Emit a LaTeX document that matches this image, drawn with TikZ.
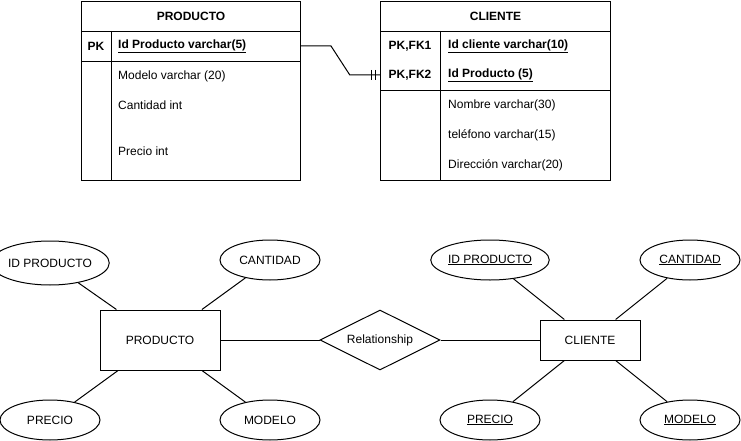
\documentclass[tikz,border=0pt]{standalone}
\usepackage{fontspec}
\setmainfont{Liberation Sans}
\usetikzlibrary{shapes.geometric}
\begin{document}
\begin{tikzpicture}[x=1pt,y=-1pt,
  every node/.style={font=\fontsize{12}{14}\selectfont},
  ln/.style={draw=black,line width=1pt},
  cellbox/.style={ln,rectangle,inner sep=0pt,anchor=north west},
  txt/.style={inner sep=0pt,anchor=west},
  keytxt/.style={inner sep=0pt,font=\fontsize{12}{14}\selectfont\bfseries},
  attr/.style={ln,ellipse,minimum width=100pt,minimum height=40pt,inner sep=0pt},
  ent/.style={ln,rectangle,minimum width=120pt,minimum height=60pt,inner sep=0pt},
  rel/.style={ln,diamond,minimum width=120pt,minimum height=60pt,inner sep=0pt,aspect=2}]
\useasboundingbox (0,0) rectangle (741,441);
% ---- Table PRODUCTO
\node[cellbox,minimum width=219pt,minimum height=30pt] (phead) at (81,1) {};
\node[keytxt] at (phead.center) {PRODUCTO};
\node[cellbox,minimum width=219pt,minimum height=30pt] (ppk) at (81,31) {};
\node[cellbox,minimum width=219pt,minimum height=119pt] (pbody) at (81,61) {};
\draw[ln] (111,31) -- (111,180);
\node[keytxt] (ppklab) at (96,46) {PK};
\node[keytxt,anchor=west] (pid) at (118,46) {\underline{Id Producto varchar(5)}};
\node[txt] (pmod) at (118,76) {Modelo varchar (20)};
\node[txt] (pcan) at (118,105) {Cantidad int};
\node[txt] (ppre) at (118,151) {Precio int};
% ---- Table CLIENTE
\node[cellbox,minimum width=230pt,minimum height=30pt] (chead) at (380,1) {};
\node[keytxt] at (chead.center) {CLIENTE};
\node[cellbox,minimum width=230pt,minimum height=59pt] (cpk) at (380,31) {};
\node[cellbox,minimum width=230pt,minimum height=90pt] (cbody) at (380,90) {};
\draw[ln] (440,31) -- (440,180);
\node[keytxt] (cpk1) at (410,46) {PK,FK1};
\node[keytxt,minimum width=60pt] (cpk2) at (410,75) {PK,FK2};
\node[keytxt,anchor=west] (cid) at (448,46) {\underline{Id cliente varchar(10)}};
\node[keytxt,anchor=west] (cidp) at (448,75) {\underline{Id Producto (5)}};
\node[txt] (cnom) at (448,105) {Nombre varchar(30)};
\node[txt] (ctel) at (448,135) {teléfono varchar(15)};
\node[txt] (cdir) at (448,165) {Dirección varchar(20)};
% connector
\draw[ln] (ppk.east |- ppklab) -- ++(30,0) -- ([xshift=-30pt]cpk2.west) -- (cpk2.west);
\draw[ln] ([xshift=-8pt]cpk2.west) ++(0,-5) -- ++(0,10);
\draw[ln] ([xshift=-4pt]cpk2.west) ++(0,-5) -- ++(0,10);
% ---- ER diagram
\node[ent] (eprod) at (160,340) {PRODUCTO};
\node[attr,minimum height=44pt] (pa1) at (50,263) {ID PRODUCTO};
\node[attr] (pa2) at (270,260) {CANTIDAD};
\node[attr] (pa3) at (50,420) {PRECIO};
\node[attr] (pa4) at (270,420) {MODELO};
\node[rel] (rel) at (380,340) {Relationship};
\node[ln,rectangle,minimum width=100pt,minimum height=40pt,inner sep=0pt] (ecli) at (590,340) {CLIENTE};
\node[attr] (ca1) at (490,260) {\underline{ID PRODUCTO}};
\node[attr] (ca2) at (690,260) {\underline{CANTIDAD}};
\node[attr] (ca3) at (490,420) {\underline{PRECIO}};
\node[attr] (ca4) at (690,420) {\underline{MODELO}};
\draw[ln] (pa1) -- (eprod);
\draw[ln] (pa2) -- (eprod);
\draw[ln] (pa3) -- (eprod);
\draw[ln] (pa4) -- (eprod);
\draw[ln] (eprod) -- (rel);
\draw[ln] (rel) -- (ecli);
\draw[ln] (ca1) -- (ecli);
\draw[ln] (ca2) -- (ecli);
\draw[ln] (ca3) -- (ecli);
\draw[ln] (ca4) -- (ecli);
\end{tikzpicture}
\end{document}
